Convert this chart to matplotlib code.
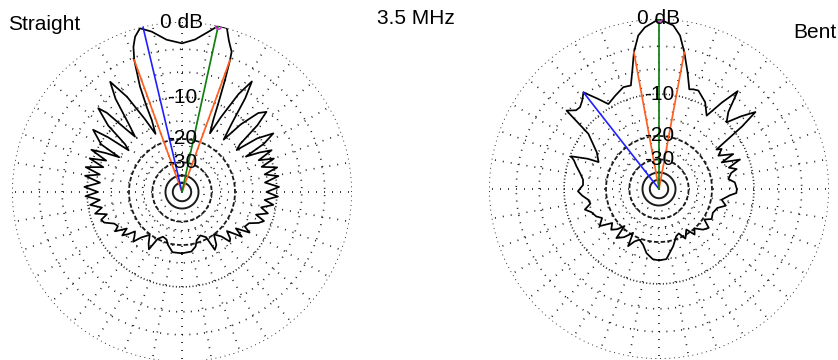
import numpy as np
import matplotlib.pyplot as plt

plt.rcParams['font.family'] = ['Liberation Sans', 'DejaVu Sans']

# azimuth patterns, degrees clockwise from top, gain in dB
straight_angle = [-180, -171, -165, -162, -157, -152.5, -150, -147, -143, -138, -135.5, -133, -130,
                  -128, -126, -123.5, -120.5, -118, -115, -111.5, -109, -106.5, -104, -101, -98,
                  -95.5, -92.5, -90, -87, -83.5, -80.5, -78, -75.5, -72.5, -70, -67.5, -65, -63,
                  -61, -59.5, -55, -53.5, -52, -50, -48, -45, -43.5, -41.5, -40.3, -38, -35.5,
                  -33.1, -30, -27, -24.5, -22.8, -22.5, -21.7, -19.9, -18.5, -16.8, -14.4, -10.7,
                  -5.8, 0, 4.9, 9.3, 12.3, 15.3, 17.2, 19.5, 20, 21, 22.3, 23.5, 25.5, 27.5, 30,
                  32.3, 34, 36, 38.5, 41, 44, 46.5, 48.5, 50.5, 52.5, 54.5, 57.3, 59.5, 61, 63, 65,
                  67.5, 70, 72.5, 75.5, 78, 80.6, 83.5, 87, 90, 92.7, 95.5, 98, 101, 104, 107,
                  109.5, 112, 115, 118.8, 121, 124, 126.8, 128.5, 131, 134, 136, 138.4, 143, 147,
                  150.4, 152, 157, 163, 166, 171, 180]
straight_db = [-17.5, -17.6, -19.5, -21, -21.5, -20, -16.2, -17.5, -19.8, -17.5, -15.3, -16.5, -17.5,
               -15.6, -14.3, -16.2, -13.5, -14.6, -14.1, -12.2, -11.8, -13.3, -11, -12.6, -10.4,
               -12.4, -9.7, -12.1, -9.5, -12.4, -9.4, -12.1, -9.2, -12.4, -9.4, -12.5, -9.1, -11.7,
               -14.8, -10.2, -7.7, -10.5, -15.8, -14.2, -9.2, -6.2, -7.6, -12.5, -14.6, -11.5, -6.8,
               -4.4, -7.5, -12.5, -16.8, -13.4, -10.5, -6.9, -3.3, -1.8, -0.8, -0.1, -0.7,
               -1.8, -2.3, -1.8, -0.8, 0, 0, -1.2, -2.3, -3.3, -6, -9.9, -13.3, -16.5, -12, -7,
               -4.5, -7, -12, -16, -11, -7.5, -6.5, -9, -14, -15.5, -10.5, -7.7, -10, -14.5, -11.5, -9.3,
               -12.3, -9.5, -12.2, -9.4, -12, -9.5, -12.2, -9.6, -12, -9.8, -12.3, -10.5, -12.8, -11.2, -13.5,
               -11.5, -12.4, -14.3, -14.8, -13.2, -16.5, -14.1, -15.9, -18, -16, -15.5, -18, -20, -17,
               -16.1, -20.6, -22, -20.9, -19, -17.8, -17.5]

bent_angle = [-180, -175, -169, -164, -159, -155, -151.6, -149.4, -144, -139, -137, -134, -130.5,
              -126, -122, -117, -113.6, -109, -105.5, -102, -98.5, -95, -91.6, -87, -83, -78.5,
              -74.7, -71.5, -69.6, -67, -66, -59.5, -52, -49.7, -46.5, -44, -41, -38, -34, -30.8,
              -25.2, -19.3, -15.2, -12.5, -10.4, -7.7, -5, 0, 5, 7.8, 10.5, 13.8, 16.9, 19, 21.8,
              28, 33, 36, 38.8, 42, 45.4, 48.5, 51.4, 53, 55.5, 57.4, 60.7, 64.8, 67, 70, 73,
              75.6, 77.5, 81.8, 85, 90, 93, 95, 99.7, 104, 108, 114, 119.7, 124, 128, 132.7, 138,
              142, 146, 152, 156, 160, 166, 174, 180]
bent_db = [-14.9, -15.1, -16.4, -18.5, -19.6, -18.5, -16.5, -20.7, -18, -16.5, -20.8, -18.5, -17.1,
           -18.5, -15.2, -16.8, -15.6, -14.9, -13.6, -15.2, -14.8, -13.6, -12.7, -13.8, -13.7, -12.8,
           -11.8, -11, -10.2, -13.5, -16.2, -14.7, -11, -5.8, -6.8, -6.9, -6.4, -5.6, -7.7, -9.3,
           -8.6, -7.8, -7.9, -5.6, -3.45, -1.6, -0.8, 0, -0.6, -1.6, -3.45, -6, -8.4, -8.2, -8.1,
           -9.4, -11.4, -8, -5.2, -8.5, -10, -7.5, -5.5, -8.4, -15.3, -14.2, -15.7, -12.5, -15.7, -11.7, -14.5,
           -12.9, -14.3, -15.2, -13.8, -13.4, -13.5, -14.9, -16.9, -15.5, -17.5, -18.2, -17.7, -19.5, -17, -17.9, -20,
           -18.5, -21.4, -19, -21.5, -20.9, -18.2, -15.1, -14.9]

# beam markers: (angle, dB) for blue, green and the two -3 dB (orange) lines
straight_blue = (-13.3, 0)
straight_green = (12.3, 0)
straight_orange = [(-19.9, -3.3), (20, -3.3)]
bent_blue = (-38, -5.6)
bent_green = (0, 0)
bent_orange = [(-10.4, -3.45), (10.5, -3.45)]

ring_labels = ['0 dB', '-10', '-20', '-30']
ring_label_db = [0, -10, -20, -30]


def to_r(db):
    # ARRL log-periodic scale
    return 0.89 ** (-np.asarray(db, dtype=float) / 2.0)


def draw_grid(ax):
    th = np.linspace(0, 2 * np.pi, 721)
    dense = (0, (0.6, 1.4))
    outer = (0, (0.6, 2.2))
    sparse = (0, (0.6, 3.8))
    dash = (0, (2.5, 1.2))
    rings = [(0, outer, 1.2), (-3, sparse, 1.2), (-6, sparse, 1.2), (-10, dense, 1.2),
             (-15, sparse, 1.2), (-20, dash, 1.3), (-25, sparse, 1.2),
             (-30, dash, 1.3), (-35, sparse, 1.2), (-40, '-', 1.4), (-50, '-', 1.4)]
    for db, ls, lw in rings:
        ax.plot(th, np.full_like(th, to_r(db)), color='#1a1a1a', lw=lw, ls=ls)
    for a in range(0, 360, 10):
        ax.plot([np.radians(a)] * 2, [to_r(-30), 1], color='#1a1a1a', lw=1.2, ls=(0, (0.6, 4.2)))


def draw_pattern(ax, angle, db, blue, green, orange):
    draw_grid(ax)
    th = np.radians(angle)
    ax.plot(th, to_r(db), color='black', lw=1.25)
    for a, d in orange:
        ax.plot([0, np.radians(a)], [0, to_r(d)], color='#ff6020', lw=1.25)
    ax.plot([0, np.radians(blue[0])], [0, to_r(blue[1])], color='#2020ff', lw=1.2)
    ax.plot([0, np.radians(green[0])], [0, to_r(green[1])], color='#108010', lw=1.25)
    ax.plot(np.radians(green[0]), to_r(green[1]), 'o', ms=4, mfc='none', mec='#d040d0', mew=1.2)
    for lab, d in zip(ring_labels, ring_label_db):
        ax.text(0, to_r(d), lab, ha='center', va='center', fontsize=15, clip_on=False)
    ax.set_theta_zero_location('N')
    ax.set_theta_direction(-1)
    ax.set_ylim(0, 1)
    ax.axis('off')


fig = plt.figure(figsize=(8.38, 3.6), dpi=100)
ax1 = fig.add_axes([12 / 838, -2 / 360, 340 / 838, 340 / 360], projection='polar')
ax2 = fig.add_axes([489 / 838, 1 / 360, 340 / 838, 340 / 360], projection='polar')

draw_pattern(ax1, straight_angle, straight_db, straight_blue, straight_green, straight_orange)
draw_pattern(ax2, bent_angle, bent_db, bent_blue, bent_green, bent_orange)

fig.text(8 / 838, 1 - 24 / 360, 'Straight', ha='left', va='center', fontsize=15)
fig.text(416 / 838, 1 - 19 / 360, '3.5 MHz', ha='center', va='center', fontsize=15)
fig.text(793 / 838, 1 - 32 / 360, 'Bent', ha='left', va='center', fontsize=15)

fig.savefig('out.png', dpi=100)
